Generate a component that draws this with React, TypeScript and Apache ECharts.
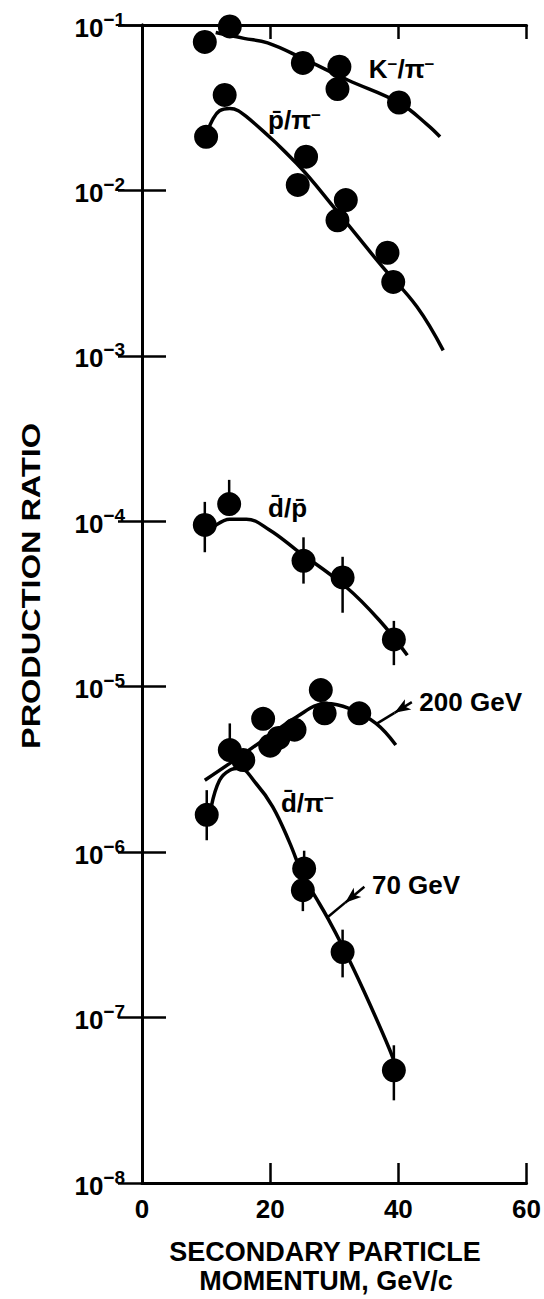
import React, { useEffect, useRef } from "react";
import * as echarts from "echarts";

const FONT = "'Liberation Sans', Arial, sans-serif";

// Axis ranges / ticks
const xMin = 0;
const xMax = 60;
const xInterval = 20;
const yMin = 1e-8;
const yMax = 1e-1;

// K-/pi- measured points
const kPiX = [9.8, 13.7, 25.1, 30.8, 30.5, 40.1];
const kPiY = [0.079, 0.098, 0.059, 0.056, 0.041, 0.034];
// K-/pi- fitted curve
const kPiCurveX = [11.5, 15.9, 19.6, 25, 32.1, 40.2, 44.5, 46.5];
const kPiCurveY = [0.09, 0.083, 0.078, 0.063, 0.0465, 0.0337, 0.025, 0.0211];

// pbar/pi- measured points
const pPiX = [10, 12.9, 25.6, 24.3, 31.8, 30.5, 38.3, 39.2];
const pPiY = [0.0211, 0.0378, 0.016, 0.0108, 0.00875, 0.0066, 0.0042, 0.0028];
// pbar/pi- curve
const pPiCurveX = [10.3, 11.0, 12.1, 13.7, 16.3, 24.1, 30.3, 37.5, 42.9, 47];
const pPiCurveY = [0.023, 0.0267, 0.0303, 0.0313, 0.0279, 0.0146, 0.0076, 0.00346, 0.00198, 0.00108];

// dbar/pbar measured points
const dPX = [9.8, 13.6, 25.2, 31.3, 39.3];
const dPY = [9.5e-5, 1.27e-4, 5.77e-5, 4.58e-5, 1.93e-5];
// dbar/pbar curve
const dPCurveX = [10.6, 13.7, 16.3, 19.9, 24.1, 31.8, 37.0, 41.4];
const dPCurveY = [8.85e-5, 1.03e-4, 1.03e-4, 8.85e-5, 6.7e-5, 4.02e-5, 2.53e-5, 1.55e-5];

// dbar/pi- at 200 GeV measured points
const d200X = [13.7, 15.8, 18.9, 20.0, 21.3, 23.8, 27.9, 28.5, 33.9];
const d200Y = [4.14e-6, 3.6e-6, 6.4e-6, 4.4e-6, 4.9e-6, 5.5e-6, 9.55e-6, 6.9e-6, 6.9e-6];
// 200 GeV curve
const d200CurveX = [9.8, 13.7, 18.9, 24.1, 28.7, 32.3, 36.5, 39.6];
const d200CurveY = [2.72e-6, 3.44e-6, 4.75e-6, 6.57e-6, 7.92e-6, 7.4e-6, 6.0e-6, 4.44e-6];

// dbar/pi- at 70 GeV measured points
const d70X = [10.1, 25.3, 25.1, 31.3, 39.3];
const d70Y = [1.68e-6, 7.96e-7, 5.89e-7, 2.49e-7, 4.8e-8];
// 70 GeV curve
const d70CurveX = [10.8, 12.1, 13.7, 15.2, 17.8, 20.4, 23.0, 25.2, 27.2, 29.0, 31.3, 34.4, 38.6, 40.1];
const d70CurveY = [1.88e-6, 2.72e-6, 3.13e-6, 3.21e-6, 2.6e-6, 1.88e-6, 1.15e-6, 7.08e-7, 5.25e-7, 3.98e-7, 2.69e-7, 1.51e-7, 6.46e-8, 4.47e-8];

// Error bars
const errX = [9.8, 13.6, 25.2, 31.3, 39.3, 10.1, 25.3, 25.1, 31.3, 39.3, 13.7];
const errLo = [6.5e-5, 1.27e-4, 4.2e-5, 2.8e-5, 1.35e-5, 1.18e-6, 7.96e-7, 4.4e-7, 1.75e-7, 3.16e-8, 4.14e-6];
const errHi = [1.31e-4, 1.78e-4, 8.0e-5, 6.1e-5, 2.5e-5, 2.37e-6, 1.02e-6, 5.89e-7, 3.4e-7, 6.8e-8, 6.0e-6];

// Curve labels
const labelX = [35.3, 19.6, 19.6, 21.6, 43.2, 35.8];
const labelY = [0.0542, 0.0267, 1.2e-4, 1.98e-6, 8.07e-6, 6.3e-7];
const labelText = [
  "{t|K}{s|−}{t|/π}{s|−}",
  "{t|p\u0304/π}{s|−}",
  "{t|d\u0304/p\u0304}",
  "{t|d\u0304/π}{s|−}",
  "{t|200 GeV}",
  "{t|70 GeV}",
];

// Pointer arrows: start (at label), middle (arrow head), end (on curve)
const arrow200X = [42.1, 39.4, 36.7];
const arrow200Y = [8.07e-6, 6.95e-6, 6.0e-6];
const arrow70X = [34.7, 31.7, 29.0];
const arrow70Y = [6.17e-7, 4.95e-7, 4.05e-7];

const xTitle1 = "SECONDARY PARTICLE";
const xTitle2 = "MOMENTUM, GeV/c";
const yTitle = "PRODUCTION RATIO";

const zip = (xs: number[], ys: number[]) => xs.map((x, i) => [x, ys[i]]);

const pointSeries = (xs: number[], ys: number[]) => ({
  type: "scatter",
  data: zip(xs, ys),
  symbol: "circle",
  symbolSize: 24,
  itemStyle: { color: "#000", opacity: 1 },
  clip: false,
  z: 5,
});

const curveSeries = (xs: number[], ys: number[], extra: any = {}) => ({
  type: "line",
  data: zip(xs, ys),
  smooth: 0.4,
  showSymbol: false,
  symbol: "none",
  lineStyle: { color: "#000", width: 3.5 },
  clip: false,
  z: 4,
  ...extra,
});

const arrowMarks = (xs: number[], ys: number[]) => ({
  silent: true,
  symbol: ["none", "none"],
  lineStyle: { color: "#000", width: 2.5, type: "solid", opacity: 1 },
  label: { show: false },
  data: [
    [
      { coord: [xs[0], ys[0]], symbol: "none" },
      { coord: [xs[1], ys[1]], symbol: "arrow", symbolSize: [9, 16] },
    ],
    [
      { coord: [xs[1], ys[1]], symbol: "none" },
      { coord: [xs[2], ys[2]], symbol: "none" },
    ],
  ],
});

export default function App() {
  const ref = useRef<HTMLDivElement>(null);
  useEffect(() => {
    if (!ref.current) return;
    const chart = echarts.init(ref.current, undefined, { renderer: "svg" });
    const axisLineStyle = { color: "#000", width: 3 };
    const option: any = {
      animation: false,
      backgroundColor: "#fff",
      grid: { left: 142, right: 16, top: 25, bottom: 116, containLabel: false },
      xAxis: [
        {
          type: "value",
          position: "bottom",
          min: xMin,
          max: xMax,
          interval: xInterval,
          axisLine: { show: true, lineStyle: axisLineStyle },
          axisTick: { show: true, inside: true, length: 20, lineStyle: { color: "#000", width: 2.5 } },
          axisLabel: {
            show: true,
            margin: 13,
            color: "#000",
            fontSize: 26,
            fontWeight: "bold",
            fontFamily: FONT,
          },
          splitLine: { show: false },
        },
        {
          type: "value",
          position: "top",
          min: xMin,
          max: xMax,
          interval: xInterval,
          axisLine: { show: true, lineStyle: axisLineStyle },
          axisTick: { show: true, inside: true, length: 14, lineStyle: { color: "#000", width: 2.5 } },
          axisLabel: { show: false },
          splitLine: { show: false },
        },
      ],
      yAxis: [
        {
          type: "log",
          logBase: 10,
          position: "left",
          min: yMin,
          max: yMax,
          splitNumber: 7,
          axisLine: { show: true, lineStyle: axisLineStyle },
          axisTick: { show: true, inside: true, length: 24, lineStyle: { color: "#000", width: 2.5 } },
          minorTick: { show: false },
          axisLabel: {
            show: true,
            margin: 17,
            color: "#000",
            fontFamily: FONT,
            formatter: (v: number) => `{a|10}{b|−${Math.round(-Math.log10(v))}}`,
            rich: {
              a: { fontSize: 26, fontWeight: "bold", fontFamily: FONT, color: "#000", verticalAlign: "bottom" },
              b: {
                fontSize: 19,
                fontWeight: "bold",
                fontFamily: FONT,
                color: "#000",
                verticalAlign: "bottom",
                padding: [0, 0, 12, 0],
              },
            },
          },
          splitLine: { show: false },
        },
        {
          type: "log",
          logBase: 10,
          position: "right",
          min: yMin,
          max: yMax,
          splitNumber: 7,
          axisLine: { show: true, lineStyle: axisLineStyle },
          axisTick: { show: true, inside: true, length: 24, lineStyle: { color: "#000", width: 2.5 } },
          minorTick: { show: false },
          axisLabel: { show: false },
          splitLine: { show: false },
        },
      ],
      series: [
        curveSeries(kPiCurveX, kPiCurveY),
        curveSeries(pPiCurveX, pPiCurveY),
        curveSeries(dPCurveX, dPCurveY),
        curveSeries(d200CurveX, d200CurveY, { markLine: arrowMarks(arrow200X, arrow200Y) }),
        curveSeries(d70CurveX, d70CurveY, { markLine: arrowMarks(arrow70X, arrow70Y) }),
        {
          type: "custom",
          data: errX.map((x, i) => [x, errLo[i], errHi[i]]),
          encode: { x: 0, y: [1, 2] },
          clip: false,
          z: 6,
          renderItem: (_params: any, api: any) => {
            const x = api.value(0);
            const p1 = api.coord([x, api.value(1)]);
            const p2 = api.coord([x, api.value(2)]);
            return {
              type: "line",
              shape: { x1: p1[0], y1: p1[1], x2: p2[0], y2: p2[1] },
              style: { stroke: "#000", lineWidth: 2.5 },
            };
          },
        },
        pointSeries(kPiX, kPiY),
        pointSeries(pPiX, pPiY),
        pointSeries(dPX, dPY),
        pointSeries(d200X, d200Y),
        pointSeries(d70X, d70Y),
        {
          type: "scatter",
          data: zip(labelX, labelY),
          symbolSize: 1,
          itemStyle: { color: "#fff", opacity: 1 },
          clip: false,
          z: 7,
          label: {
            show: true,
            position: "right",
            distance: 0,
            color: "#000",
            opacity: 1,
            fontFamily: FONT,
            formatter: (p: any) => labelText[p.dataIndex],
            rich: {
              t: { fontSize: 26, fontWeight: "bold", fontFamily: FONT, color: "#000", verticalAlign: "bottom" },
              s: { fontSize: 17, fontWeight: "bold", fontFamily: FONT, color: "#000", verticalAlign: "top" },
            },
          },
        },
      ],
      graphic: [
        {
          type: "text",
          x: 325,
          y: 1252,
          style: {
            text: xTitle1,
            fontSize: 27,
            fontWeight: "bold",
            fontFamily: FONT,
            fill: "#000",
            align: "center",
            verticalAlign: "middle",
          },
        },
        {
          type: "text",
          x: 326,
          y: 1281,
          style: {
            text: xTitle2,
            fontSize: 27,
            fontWeight: "bold",
            fontFamily: FONT,
            fill: "#000",
            align: "center",
            verticalAlign: "middle",
          },
        },
        {
          type: "text",
          x: 31,
          y: 586,
          rotation: Math.PI / 2,
          scaleX: 1.25,
          style: {
            text: yTitle,
            fontSize: 26,
            fontWeight: "bold",
            fontFamily: FONT,
            fill: "#000",
            align: "center",
            verticalAlign: "middle",
          },
        },
      ],
    };
    chart.setOption(option);
    return () => chart.dispose();
  }, []);
  return (
    <div
      ref={ref}
      style={{ position: "fixed", left: 0, top: 0, width: 544, height: 1299, background: "#fff" }}
    />
  );
}
